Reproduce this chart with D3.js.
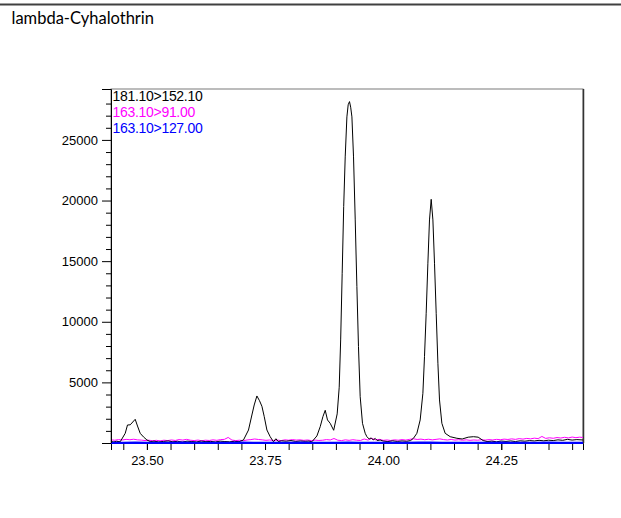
<!DOCTYPE html>
<html>
<head>
<meta charset="utf-8">
<script src="https://cdn.jsdelivr.net/npm/d3@7/dist/d3.min.js"></script>
<style>
  html, body { margin: 0; padding: 0; background: #fff; }
  svg { display: block; }
</style>
</head>
<body>
<svg id="chart" width="621" height="518"></svg>
<script>
// Chromatogram of lambda-Cyhalothrin: three MRM transitions
const title = "lambda-Cyhalothrin";
const transitions = ["181.10>152.10", "163.10>91.00", "163.10>127.00"];
const traceColors = ["#000000", "#ff00ff", "#0000ff"];

// Retention time axis (min)
const timeDomain = [23.424, 24.423];
const timeLabelTicks = [23.50, 23.75, 24.00, 24.25];
const timeMinorTicks = [23.45, 23.50, 23.55, 23.60, 23.65, 23.70, 23.75, 23.80, 23.85, 23.90,
  23.95, 24.00, 24.05, 24.10, 24.15, 24.20, 24.25, 24.30, 24.35, 24.40];

// Intensity axis
const intensityDomain = [0, 29200];
const intensityLabelTicks = [5000, 10000, 15000, 20000, 25000];
const intensityMinorTicks = [1000, 2000, 3000, 4000, 6000, 7000, 8000, 9000, 11000, 12000, 13000,
  14000, 16000, 17000, 18000, 19000, 21000, 22000, 23000, 24000, 26000, 27000, 28000];

// 181.10>152.10 : [time, intensity]
const trace181 = [
  [23.424, 120], [23.430, 90], [23.436, 140], [23.4435, 100], [23.4541, 800], [23.4589, 1485],
  [23.4647, 1500], [23.4752, 1955], [23.4801, 1400], [23.4858, 800], [23.4928, 500], [23.500, 250],
  [23.507, 120], [23.515, 150], [23.525, 90], [23.535, 130], [23.545, 170], [23.555, 100],
  [23.565, 140], [23.575, 80], [23.585, 150], [23.595, 120], [23.605, 90], [23.615, 160],
  [23.625, 110], [23.635, 130], [23.645, 90], [23.655, 150], [23.665, 120], [23.675, 100],
  [23.685, 140], [23.695, 110], [23.7044, 250], [23.715, 1070], [23.7222, 2310], [23.7271, 3135],
  [23.7328, 3880], [23.7383, 3490], [23.7434, 3030], [23.7482, 2200], [23.754, 1070], [23.7609, 520],
  [23.7679, 100], [23.773, 350], [23.7779, 120], [23.785, 180], [23.795, 150], [23.805, 200],
  [23.815, 130], [23.825, 170], [23.835, 140], [23.843, 160], [23.8492, 100], [23.8598, 580],
  [23.8668, 1345], [23.8725, 2170], [23.8774, 2700], [23.8822, 1900], [23.8879, 1625], [23.8953, 1050],
  [23.9027, 2400], [23.907, 4600], [23.9101, 8500], [23.9133, 14000], [23.9165, 19500], [23.9197, 23600],
  [23.9233, 26900], [23.926, 27900], [23.9288, 28160], [23.9313, 27700], [23.9339, 26900], [23.9373, 23600],
  [23.9409, 18400], [23.9444, 12900], [23.9478, 7950], [23.9514, 3820], [23.9563, 1625], [23.962, 800],
  [23.9656, 520], [23.9704, 330], [23.9747, 420], [23.9789, 250], [23.9832, 380], [23.9874, 200],
  [23.9937, 250], [24.000, 160], [24.010, 120], [24.020, 180], [24.030, 130], [24.040, 170],
  [24.050, 140], [24.058, 200], [24.0642, 390], [24.0714, 800], [24.0784, 1900], [24.0841, 4100],
  [24.0875, 7120], [24.0911, 10700], [24.0947, 14830], [24.0981, 18400], [24.1017, 20100], [24.1053, 18400],
  [24.1087, 14830], [24.1123, 10700], [24.1159, 6580], [24.1193, 3550], [24.1243, 1625], [24.1313, 800],
  [24.1419, 520], [24.1561, 390], [24.1673, 330], [24.180, 480], [24.1912, 520], [24.2011, 480],
  [24.2117, 200], [24.220, 120], [24.230, 150], [24.240, 100], [24.250, 160], [24.260, 130],
  [24.270, 170], [24.280, 120], [24.290, 180], [24.300, 150], [24.310, 200], [24.320, 170],
  [24.330, 220], [24.340, 180], [24.350, 230], [24.360, 200], [24.370, 260], [24.380, 220],
  [24.390, 300], [24.400, 240], [24.410, 280], [24.423, 250]
];

// 163.10>91.00 : [time, intensity]
const trace91 = [
  [23.424, 260], [23.432, 230], [23.440, 280], [23.448, 250], [23.456, 300], [23.464, 270],
  [23.472, 310], [23.480, 260], [23.488, 240], [23.496, 200], [23.504, 230], [23.512, 190],
  [23.520, 220], [23.528, 180], [23.536, 230], [23.544, 200], [23.552, 250], [23.560, 210],
  [23.568, 280], [23.576, 240], [23.584, 300], [23.592, 230], [23.600, 200], [23.608, 240],
  [23.616, 190], [23.624, 230], [23.632, 210], [23.640, 260], [23.648, 220], [23.656, 280],
  [23.664, 300], [23.672, 460], [23.680, 240], [23.688, 200], [23.696, 230], [23.704, 190],
  [23.712, 250], [23.720, 280], [23.728, 330], [23.736, 290], [23.744, 260], [23.752, 220],
  [23.760, 250], [23.768, 210], [23.776, 240], [23.784, 200], [23.792, 260], [23.800, 230],
  [23.808, 280], [23.816, 240], [23.824, 260], [23.832, 220], [23.840, 250], [23.848, 200],
  [23.856, 240], [23.864, 210], [23.872, 230], [23.880, 280], [23.888, 250], [23.896, 370],
  [23.904, 230], [23.912, 200], [23.920, 260], [23.928, 220], [23.936, 270], [23.944, 230],
  [23.952, 210], [23.960, 330], [23.968, 240], [23.976, 380], [23.984, 260], [23.992, 300],
  [24.000, 220], [24.008, 250], [24.016, 210], [24.024, 260], [24.032, 230], [24.040, 280],
  [24.048, 240], [24.056, 300], [24.064, 350], [24.072, 290], [24.080, 320], [24.088, 270],
  [24.096, 310], [24.104, 260], [24.112, 300], [24.120, 340], [24.128, 280], [24.136, 250],
  [24.144, 290], [24.152, 240], [24.160, 270], [24.168, 230], [24.176, 260], [24.184, 220],
  [24.192, 250], [24.200, 230], [24.208, 270], [24.216, 240], [24.224, 280], [24.232, 250],
  [24.240, 300], [24.248, 270], [24.256, 320], [24.264, 290], [24.272, 340], [24.280, 300],
  [24.288, 360], [24.296, 320], [24.304, 380], [24.312, 340], [24.320, 400], [24.328, 360],
  [24.336, 540], [24.344, 380], [24.352, 430], [24.360, 390], [24.368, 450], [24.376, 410],
  [24.384, 470], [24.392, 420], [24.400, 490], [24.408, 440], [24.416, 480], [24.424, 450]
];

// 163.10>127.00 : [time, intensity]
const trace127 = [
  [23.424, 40], [23.450, 30], [23.475, 50], [23.500, 35], [23.525, 45], [23.550, 30],
  [23.575, 50], [23.600, 40], [23.625, 30], [23.650, 45], [23.675, 35], [23.700, 50],
  [23.725, 40], [23.750, 30], [23.775, 45], [23.800, 35], [23.825, 50], [23.850, 40],
  [23.875, 30], [23.900, 45], [23.925, 60], [23.950, 40], [23.975, 35], [24.000, 45],
  [24.025, 30], [24.050, 40], [24.075, 50], [24.100, 55], [24.125, 40], [24.150, 35],
  [24.175, 45], [24.200, 30], [24.225, 40], [24.250, 50], [24.275, 35], [24.300, 45],
  [24.325, 40], [24.350, 50], [24.375, 35], [24.400, 45], [24.423, 40]
];

const svg = d3.select("#chart");
const W = 621;
const plot = { left: 111, right: 583, top: 89, bottom: 443 };

const x = d3.scaleLinear().domain(timeDomain).range([plot.left, plot.right]);
const y = d3.scaleLinear().domain(intensityDomain).range([plot.bottom, plot.top]);

// header rule and compound name
svg.append("line")
  .attr("x1", 0).attr("x2", W).attr("y1", 4.5).attr("y2", 4.5)
  .attr("stroke", "#404040").attr("stroke-width", 2);
svg.append("text")
  .attr("x", 11.5).attr("y", 23.5)
  .attr("font-family", "Lato, 'Open Sans', sans-serif")
  .attr("font-size", 16.5)
  .attr("fill", "#000")
  .text(title);

// plot frame
svg.append("rect")
  .attr("x", plot.left).attr("y", plot.top)
  .attr("width", plot.right - plot.left).attr("height", plot.bottom - plot.top)
  .attr("fill", "none").attr("stroke", "#7a7a7a").attr("stroke-width", 1);
svg.append("line")
  .attr("x1", plot.right + 0.5).attr("x2", plot.right + 0.5)
  .attr("y1", plot.top).attr("y2", plot.bottom)
  .attr("stroke", "#333").attr("stroke-width", 1.5);

svg.append("clipPath").attr("id", "plotClip")
  .append("rect")
  .attr("x", plot.left).attr("y", plot.top)
  .attr("width", plot.right - plot.left).attr("height", plot.bottom - plot.top + 1);

const line = d3.line().x(d => x(d[0])).y(d => y(d[1]));
const traces = [trace181, trace91, trace127];
const drawOrder = [1, 0, 2];
const traceWidths = [1, 1, 1.6];
const g = svg.append("g").attr("clip-path", "url(#plotClip)");
drawOrder.forEach(i => {
  g.append("path")
    .datum(traces[i])
    .attr("fill", "none")
    .attr("stroke", traceColors[i])
    .attr("stroke-width", traceWidths[i])
    .attr("stroke-linejoin", "round")
    .attr("d", line);
});

// x axis
const axisFont = "'Liberation Sans', Arial, sans-serif";
const xMinor = svg.append("g")
  .attr("transform", `translate(0,${plot.bottom})`)
  .call(d3.axisBottom(x).tickValues(timeMinorTicks).tickSize(7).tickFormat(""));
xMinor.select(".domain").remove();
const xAxis = svg.append("g")
  .attr("transform", `translate(0,${plot.bottom})`)
  .call(d3.axisBottom(x).tickValues(timeLabelTicks).tickSize(7).tickPadding(6).tickFormat(d3.format(".2f")));
xAxis.select(".domain").attr("stroke", "#000");
xAxis.selectAll("text").attr("font-family", axisFont).attr("font-size", 13).attr("fill", "#000");

// y axis
const yMinor = svg.append("g")
  .attr("transform", `translate(${plot.left},0)`)
  .call(d3.axisLeft(y).tickValues(intensityMinorTicks).tickSize(5).tickFormat(""));
yMinor.select(".domain").remove();
const yAxis = svg.append("g")
  .attr("transform", `translate(${plot.left},0)`)
  .call(d3.axisLeft(y).tickValues(intensityLabelTicks).tickSize(9).tickPadding(4).tickFormat(d3.format("d")));
yAxis.select(".domain").attr("stroke", "#000");
yAxis.selectAll("text").attr("font-family", axisFont).attr("font-size", 13).attr("fill", "#000");

// baseline trace over the axis line
svg.append("line")
  .attr("x1", plot.left).attr("x2", plot.right)
  .attr("y1", plot.bottom + 0.5).attr("y2", plot.bottom + 0.5)
  .attr("stroke", "#0000ff").attr("stroke-width", 1);

// transition legend
transitions.forEach((t, i) => {
  svg.append("text")
    .attr("x", 112.5).attr("y", 100.5 + i * 16)
    .attr("font-family", axisFont)
    .attr("font-size", 14)
    .attr("letter-spacing", -0.3)
    .attr("fill", traceColors[i])
    .text(t);
});
</script>
</body>
</html>
